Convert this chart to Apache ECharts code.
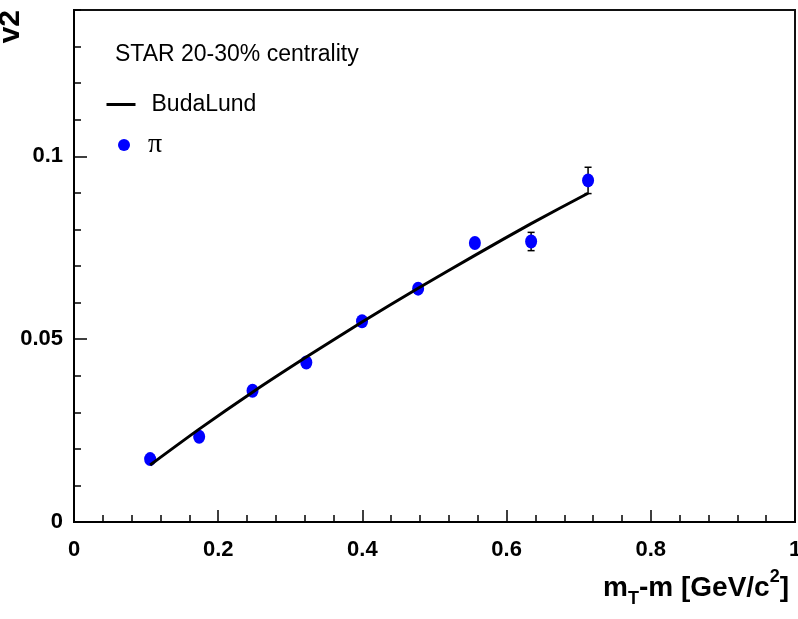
<!DOCTYPE html>
<html>
<head>
<meta charset="utf-8">
<script src="https://cdn.jsdelivr.net/npm/echarts@6/dist/echarts.min.js"></script>
<style>html,body{margin:0;padding:0;background:#fff;overflow:hidden;}#c{width:798px;height:619px;}</style>
</head>
<body>
<div id="c"></div>
<script>
// Data
const piX   = [0.1056, 0.1736, 0.2476, 0.3222, 0.3995, 0.4773, 0.5560, 0.6340, 0.7130];
const piV2  = [0.0172, 0.0233, 0.0359, 0.0436, 0.0549, 0.0638, 0.0763, 0.0767, 0.0934];
const piErr = [0.0008, 0.0008, 0.0008, 0.0008, 0.0008, 0.0008, 0.0010, 0.0025, 0.0036];
const budaX = [0.1056, 0.1736, 0.2476, 0.3222, 0.3995, 0.4773, 0.5560, 0.6340, 0.7130];
const budaV2 = [0.0156, 0.0254, 0.0355, 0.0451, 0.0547, 0.0639, 0.0729, 0.0816, 0.0899];
const xTicks = ['0', '0.2', '0.4', '0.6', '0.8', '1'];
const yTicks = ['0', '0.05', '0.1'];

const FONT = 'Liberation Sans, Arial, Helvetica, sans-serif';
const chart = echarts.init(document.getElementById('c'), null, {renderer: 'canvas', width: 798, height: 619});

const piData = piX.map((x, i) => [x, piV2[i]]);
const errData = piX.map((x, i) => [x, piV2[i] - piErr[i], piV2[i] + piErr[i]]);
const budaData = budaX.map((x, i) => [x, budaV2[i]]);

chart.setOption({
  animation: false,
  title: [
    {text: 'STAR 20-30% centrality', left: 110, top: 38,
     textStyle: {fontFamily: FONT, fontSize: 23, fontWeight: 'normal', color: '#000'}},
    {text: '{m|m}{s|T}{m|-m [GeV/c}{p|2}{m|]}', right: 4, top: 563,
     textStyle: {fontFamily: FONT, rich: {
       m: {fontFamily: FONT, fontSize: 28, fontWeight: 'bold', color: '#000', lineHeight: 40},
       s: {fontFamily: FONT, fontSize: 18, fontWeight: 'bold', color: '#000', verticalAlign: 'bottom', lineHeight: 40},
       p: {fontFamily: FONT, fontSize: 18, fontWeight: 'bold', color: '#000', verticalAlign: 'top', lineHeight: 40}
     }}}
  ],
  graphic: [
    {type: 'text', x: 11, y: 10, rotation: Math.PI / 2,
     style: {text: 'v2', fontFamily: FONT, fontSize: 30, fontWeight: 'bold', fill: '#000', align: 'right', verticalAlign: 'middle'}}
  ],
  legend: [
    {data: [{name: 'BudaLund', itemStyle: {opacity: 0}}], left: 100, top: 88, orient: 'vertical',
     itemWidth: 29, itemHeight: 11, selectedMode: false,
     lineStyle: {width: 3, color: '#000'},
     textStyle: {fontFamily: FONT, fontSize: 23, color: '#000', padding: [0, 0, 0, 11]}},
    {data: [{name: 'π', icon: 'circle'}], left: 113, top: 126, orient: 'vertical',
     itemWidth: 12, itemHeight: 12, selectedMode: false,
     itemStyle: {color: '#0000ff', opacity: 1},
     textStyle: {fontFamily: 'Liberation Serif, serif', fontSize: 28, color: '#000', padding: [0, 0, 0, 13]}}
  ],
  grid: {left: 74, right: 3, top: 10, bottom: 97, show: true, borderColor: '#111', borderWidth: 2,
         containLabel: false, outerBoundsMode: 'none'},
  xAxis: {
    type: 'value', min: 0, max: 1, interval: 0.2,
    axisLine: {show: true, lineStyle: {color: '#000', width: 2}},
    axisTick: {show: true, inside: true, length: 12, lineStyle: {color: '#000', width: 1.5}},
    minorTick: {show: true, splitNumber: 5, length: 7, lineStyle: {color: '#000', width: 1.5}},
    splitLine: {show: false},
    axisLabel: {fontFamily: FONT, fontSize: 22, fontWeight: 'bold', color: '#000', margin: 17,
      formatter: v => { const i = Math.round(v / 0.2); return Math.abs(v - i * 0.2) < 1e-9 ? xTicks[i] : ''; }}
  },
  yAxis: [
    {type: 'value', min: 0, max: 0.14, interval: 0.05, position: 'left',
     axisLine: {show: true, lineStyle: {color: '#000', width: 2}},
     axisTick: {show: true, inside: true, length: 13, lineStyle: {color: '#000', width: 1.5}},
     splitLine: {show: false},
     axisLabel: {fontFamily: FONT, fontSize: 22, fontWeight: 'bold', color: '#000', margin: 11, showMaxLabel: false,
       formatter: v => { const i = Math.round(v / 0.05); return (Math.abs(v - i * 0.05) < 1e-9 && i < yTicks.length) ? yTicks[i] : ''; }}},
    {type: 'value', min: 0, max: 0.14, interval: 0.01, position: 'left', offset: 0,
     axisLine: {show: false},
     axisTick: {show: true, inside: true, length: 7, lineStyle: {color: '#000', width: 1.5}},
     splitLine: {show: false},
     axisLabel: {show: false}}
  ],
  series: [
    {name: 'π', type: 'scatter', data: piData, symbol: 'circle', symbolSize: [12, 14],
     itemStyle: {color: '#0000ff', opacity: 1}, z: 3},
    {name: 'err', type: 'custom', data: errData, z: 2,
     renderItem: function (params, api) {
       const x = api.value(0);
       const lo = api.coord([x, api.value(1)]);
       const hi = api.coord([x, api.value(2)]);
       const hw = 3.5;
       const st = {stroke: '#000', lineWidth: 1.5};
       return {type: 'group', children: [
         {type: 'line', shape: {x1: lo[0], y1: lo[1], x2: hi[0], y2: hi[1]}, style: st},
         {type: 'line', shape: {x1: lo[0] - hw, y1: lo[1], x2: lo[0] + hw, y2: lo[1]}, style: st},
         {type: 'line', shape: {x1: hi[0] - hw, y1: hi[1], x2: hi[0] + hw, y2: hi[1]}, style: st}
       ]};
     }},
    {name: 'BudaLund', type: 'line', data: budaData, symbol: 'none', showSymbol: false, smooth: 0.2,
     lineStyle: {color: '#000', width: 3}, itemStyle: {color: '#000'}, z: 4}
  ]
});
</script>
</body>
</html>
